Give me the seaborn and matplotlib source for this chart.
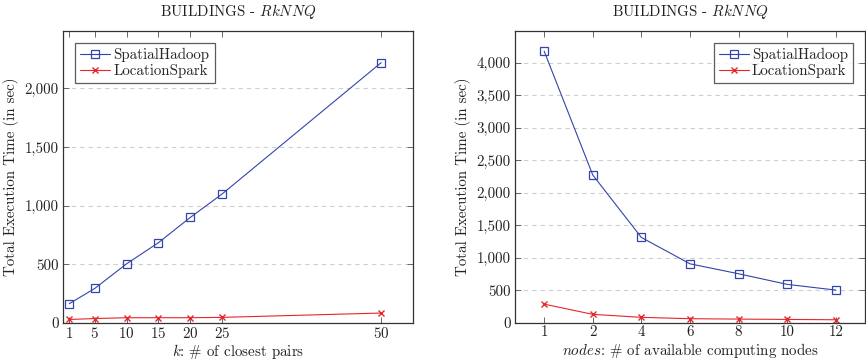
import pandas as pd
import matplotlib.pyplot as plt
import seaborn as sns

# Data: left panel (k closest pairs)
k_values = [1, 5, 10, 15, 20, 25, 50]
k_spatialhadoop = [165, 295, 505, 685, 900, 1100, 2220]
k_locationspark = [30, 38, 45, 45, 45, 48, 85]

# Data: right panel (computing nodes)
node_labels = ["1", "2", "4", "6", "8", "10", "12"]
node_spatialhadoop = [4180, 2275, 1315, 910, 757, 594, 506]
node_locationspark = [290, 133, 87, 66, 60, 55, 50]

series_names = ["SpatialHadoop", "LocationSpark"]
blue = "#3344aa"
red = "#e8262a"

sns.set_theme(style="white")
plt.rcParams["font.family"] = ["cmr10", "DejaVu Serif"]
plt.rcParams["mathtext.fontset"] = "cm"
plt.rcParams["axes.formatter.use_mathtext"] = True
plt.rcParams["axes.unicode_minus"] = False

df_k = pd.DataFrame({
    "x": k_values * 2,
    "y": k_spatialhadoop + k_locationspark,
    "system": [series_names[0]] * len(k_values) + [series_names[1]] * len(k_values),
})
df_n = pd.DataFrame({
    "x": list(range(len(node_labels))) * 2,
    "y": node_spatialhadoop + node_locationspark,
    "system": [series_names[0]] * len(node_labels) + [series_names[1]] * len(node_labels),
})

fig = plt.figure(figsize=(8.66, 3.63), dpi=100)
ax1 = fig.add_axes([63 / 866, 1 - 323 / 363, 350 / 866, 292 / 363])
ax2 = fig.add_axes([515 / 866, 1 - 323 / 363, 350 / 866, 292 / 363])

fs = 10.8


def draw(ax, df):
    sns.lineplot(data=df, x="x", y="y", hue="system", style="system",
                 palette=[blue, red], markers=["s", "X"], dashes=False,
                 linewidth=0.8, ax=ax, legend=False)
    # restyle markers to pgfplots look
    ax.lines[0].set_marker("s")
    ax.lines[0].set_markerfacecolor("none")
    ax.lines[0].set_markeredgecolor(blue)
    ax.lines[0].set_markersize(6)
    ax.lines[0].set_markeredgewidth(0.9)
    ax.lines[1].set_marker("x")
    ax.lines[1].set_markeredgecolor(red)
    ax.lines[1].set_markersize(4)
    ax.lines[1].set_markeredgewidth(1.0)
    ax.yaxis.grid(True, linestyle=(0, (4, 3.5)), color="#cfcfcf", linewidth=0.8)
    ax.set_axisbelow(True)
    for s in ax.spines.values():
        s.set_visible(True)
        s.set_color("#333333")
        s.set_linewidth(0.9)
    ax.tick_params(direction="in", length=4, width=0.7, color="#666666",
                   top=True, right=True, labelsize=fs, pad=3,
                   labelcolor="#222222", bottom=True, left=True)
    ax.tick_params(axis="x", pad=2)
    ax.yaxis.set_major_formatter(plt.FuncFormatter(lambda v, p: f"{int(v):,}"))
    ax.set_ylabel("Total Execution Time (in sec)", fontsize=fs, color="#222222",
                  labelpad=4)
    ax.set_title(r"BUILDINGS - $\it{RkNNQ}$", fontsize=fs, color="#222222", pad=11)
    leg = ax.legend(ax.lines[:2], series_names, fontsize=fs,
                    loc="upper left" if ax is ax1 else "upper right",
                    frameon=True, fancybox=False, handlelength=2.0,
                    borderaxespad=0.8, handletextpad=0.2, labelspacing=0.1,
                    borderpad=0.35)
    leg.get_frame().set_edgecolor("#333333")
    leg.get_frame().set_linewidth(0.9)


draw(ax1, df_k)
ax1.set_xticks(k_values)
ax1.set_xlim(0, 55)
ax1.set_ylim(0, 2490)
ax1.set_yticks([0, 500, 1000, 1500, 2000])
ax1.set_xlabel(r"$k$: # of closest pairs", fontsize=fs, color="#222222", labelpad=1)

draw(ax2, df_n)
ax2.set_xticks(range(len(node_labels)))
ax2.set_xticklabels(node_labels)
ax2.set_xlim(-0.6, 6.6)
ax2.set_ylim(0, 4490)
ax2.set_yticks(range(0, 4001, 500))
ax2.set_xlabel(r"$\it{nodes}$: # of available computing nodes", fontsize=fs,
               color="#222222", labelpad=1)

fig.savefig("out.png", dpi=100)
